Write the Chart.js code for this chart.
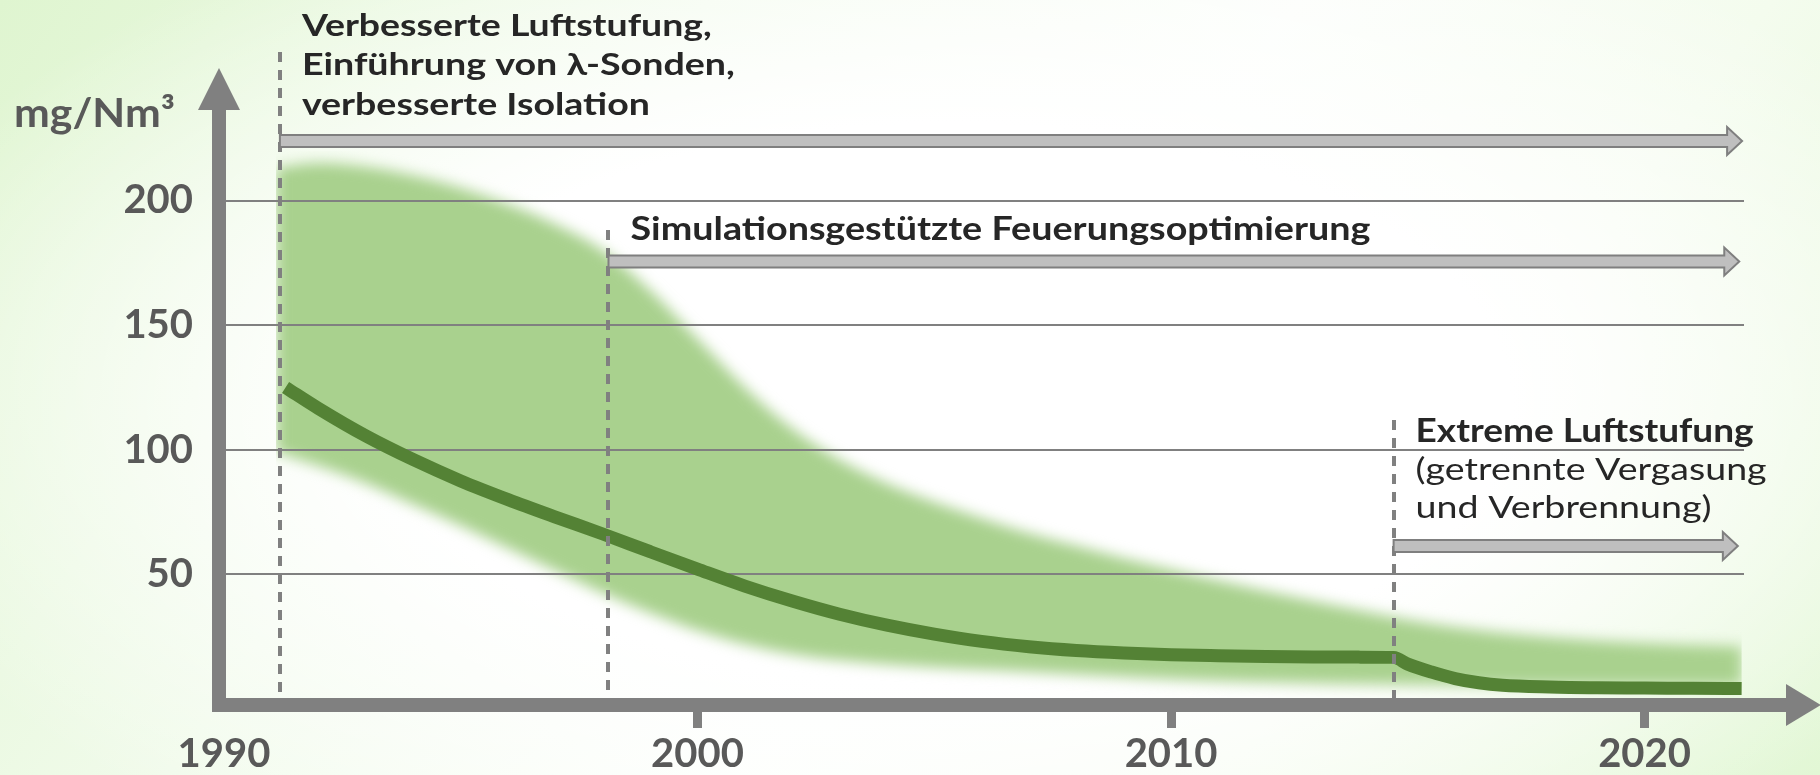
<!DOCTYPE html>
<html>
<head>
<meta charset="utf-8">
<script src="https://cdn.jsdelivr.net/npm/chart.js@4/dist/chart.umd.min.js"></script>
<style>
  html, body { margin: 0; padding: 0; width: 1820px; height: 775px; overflow: hidden; }
  body {
    background:
      radial-gradient(ellipse 62% 72% at 52% 52%, #ffffff 50%, rgba(255,255,255,0) 100%),
      linear-gradient(125deg, #dff5d0 0%, #f1fbeb 30%, #fbfefa 55%, #f4fcee 75%, #e2f7d5 100%);
  }
  #wrap { position: absolute; left: 0; top: 0; width: 1820px; height: 775px; }
</style>
</head>
<body>
<div id="wrap"><canvas id="c" width="1820" height="775"></canvas></div>
<script>
// ---------------- data ----------------
const yUnitLabel = "mg/Nm³";
const xTickYears = [1990, 2000, 2010, 2020];
const yTickValues = [50, 100, 150, 200];

// spread of emissions (light green band)
const bandYears = [1991.1, 1992, 1993, 1994, 1995, 1996, 1997, 1998, 1999, 2000, 2001, 2002, 2003, 2004, 2005, 2006, 2007, 2008, 2009, 2010, 2011, 2012, 2013, 2014, 2015, 2016, 2017, 2018, 2019, 2020, 2021, 2022.05];
const bandUpper = [213, 215, 213.5, 210, 205, 198.5, 190.5, 180, 164, 144.5, 125, 108.5, 96, 86.5, 79, 72.5, 66.5, 61.5, 56.5, 52, 47.5, 43.3, 39.3, 35.5, 31.8, 28.8, 26.5, 24.8, 23.4, 22.4, 21.6, 21];
const bandLower = [99, 93.5, 86.5, 78, 69.5, 60.5, 51.5, 42.5, 34.5, 27.5, 22, 18, 15.5, 13.8, 12.6, 11.7, 10.8, 9.8, 8.8, 7.9, 7.2, 6.7, 6.3, 6, 5.8, 5.6, 5.5, 5.5, 5.5, 5.5, 5.5, 5.5];

// typical emission (dark green line)
const meanYears = [1991.3, 1992, 1993, 1994, 1995, 1996, 1997, 1998, 1999, 2000, 2001, 2002, 2003, 2004, 2005, 2006, 2007, 2008, 2009, 2010, 2011, 2012, 2013, 2014, 2014.7, 2015, 2015.5, 2016, 2016.5, 2017, 2018, 2019, 2020, 2021, 2022.05];
const meanValues = [125, 116.5, 105.5, 96, 87.5, 80, 73, 66.2, 59.1, 52.1, 45.3, 39.3, 34, 29.6, 26, 23.1, 21, 19.5, 18.5, 17.8, 17.4, 17.1, 16.9, 16.8, 16.7, 14, 10.8, 8.2, 6.5, 5.5, 4.8, 4.5, 4.4, 4.3, 4.2];

// technology stages
const stageYears = [1991.18, 1998.12, 2014.7];
const stageEndYears = [2022.06, 2022.0, 2021.97];
const stageTexts = [
  ["Verbesserte Luftstufung,", "Einführung von λ-Sonden,", "verbesserte Isolation"],
  ["Simulationsgestützte Feuerungsoptimierung"],
  ["Extreme Luftstufung", "(getrennte Vergasung", "und Verbrennung)"]
];

// ---------------- styling / layout (not data) ----------------
const GRAY = '#808080';
const TICK_TEXT = '#595959';
const NOTE_TEXT = '#262626';
const BAND_BLUR = 'blur(7px)';
const FONT_FAMILY = 'Lato, "Open Sans", "DejaVu Sans", sans-serif';
const stageStyle = [
  { dashTopVal: 259.6, arrowVal: 223.9, baselines: [35.5, 75, 114.5], widths: [410, 433, 348], fonts: ['bold 30px', 'bold 30px', 'bold 30px'] },
  { dashTopVal: 188.2, arrowVal: 175.5, baselines: [240], widths: [740], fonts: ['bold 33px'] },
  { dashTopVal: 111.9, arrowVal: 61.4, baselines: [441.7, 480, 518.3], widths: [338, 351, 296], fonts: ['bold 32px', '30px', '30px'] }
];
const TEXT_OFFSET_X = 22;

function fitText(ctx, text, x, y, font, width, color) {
  ctx.save();
  ctx.font = font + ' ' + FONT_FAMILY;
  ctx.fillStyle = color;
  ctx.textAlign = 'left';
  ctx.textBaseline = 'alphabetic';
  const w = ctx.measureText(text).width;
  ctx.translate(x, y);
  ctx.scale(width / w, 1);
  ctx.fillText(text, 0, 0);
  ctx.restore();
}

const decor = {
  id: 'decor',
  beforeRender(chart) { chart.ctx.filter = BAND_BLUR; },
  beforeDraw(chart) { chart.ctx.filter = 'none'; },   // runs after the filler has painted the blurred band
  afterDatasetsDraw(chart) {
    const ctx = chart.ctx;
    const ca = chart.chartArea;
    const xs = chart.scales.x, ys = chart.scales.y;
    ctx.save();
    // dashed stage markers
    ctx.strokeStyle = GRAY;
    ctx.lineWidth = 4;
    ctx.setLineDash([10, 8]);
    stageYears.forEach((yr, i) => {
      const x = Math.round(xs.getPixelForValue(yr));
      ctx.beginPath();
      ctx.moveTo(x, ys.getPixelForValue(stageStyle[i].dashTopVal));
      ctx.lineTo(x, ca.bottom - 1);
      ctx.stroke();
    });
    ctx.setLineDash([]);
    // stage arrows
    stageYears.forEach((yr, i) => {
      const x0 = xs.getPixelForValue(yr);
      const tip = xs.getPixelForValue(stageEndYears[i]);
      const y = ys.getPixelForValue(stageStyle[i].arrowVal);
      const xb = tip - 15;
      ctx.beginPath();
      ctx.moveTo(x0, y - 6);
      ctx.lineTo(xb, y - 6);
      ctx.lineTo(xb, y - 14);
      ctx.lineTo(tip, y);
      ctx.lineTo(xb, y + 14);
      ctx.lineTo(xb, y + 6);
      ctx.lineTo(x0, y + 6);
      ctx.closePath();
      ctx.fillStyle = '#bfbfbf';
      ctx.fill();
      ctx.lineWidth = 2;
      ctx.strokeStyle = '#7f7f7f';
      ctx.stroke();
    });
    // axes with arrow heads
    ctx.fillStyle = GRAY;
    const axX = ca.left - 12;
    ctx.fillRect(axX, 110, 14, ca.bottom + 13 - 110);
    ctx.beginPath();
    ctx.moveTo(axX + 7, 68); ctx.lineTo(axX + 7 - 21, 110); ctx.lineTo(axX + 7 + 21, 110); ctx.closePath();
    ctx.fill();
    ctx.fillRect(axX, ca.bottom - 1, 1787 - axX, 14);
    ctx.beginPath();
    ctx.moveTo(1786, ca.bottom + 6 - 21); ctx.lineTo(1821, ca.bottom + 6); ctx.lineTo(1786, ca.bottom + 6 + 21); ctx.closePath();
    ctx.fill();
    ctx.restore();
  },
  afterDraw(chart) {
    const ctx = chart.ctx;
    const xs = chart.scales.x;
    fitText(ctx, yUnitLabel, 14, 127, 'bold 40px', 161, TICK_TEXT);
    stageTexts.forEach((lines, i) => {
      const st = stageStyle[i];
      const x = xs.getPixelForValue(stageYears[i]) + TEXT_OFFSET_X;
      lines.forEach((t, j) => fitText(ctx, t, x, st.baselines[j], st.fonts[j], st.widths[j], NOTE_TEXT));
    });
    ctx.filter = BAND_BLUR;   // prepare for the next frame's band fill
  }
};

function toPoints(xsArr, ysArr) { return xsArr.map((x, i) => ({ x: x, y: ysArr[i] })); }

function build() {
  const ctx = document.getElementById('c').getContext('2d');
  new Chart(ctx, {
    type: 'line',
    data: {
      datasets: [
        { label: 'Bandbreite oben', data: toPoints(bandYears, bandUpper), fill: '+1', backgroundColor: '#a9d18e',
          borderColor: 'rgba(0,0,0,0)', borderWidth: 1, pointRadius: 0, cubicInterpolationMode: 'monotone' },
        { label: 'Bandbreite unten', data: toPoints(bandYears, bandLower), fill: false,
          borderColor: 'rgba(0,0,0,0)', borderWidth: 1, pointRadius: 0, cubicInterpolationMode: 'monotone' },
        { label: 'Typische Emission', data: toPoints(meanYears, meanValues), fill: false,
          borderColor: '#548235', borderWidth: 13, borderCapStyle: 'butt', pointRadius: 0, cubicInterpolationMode: 'monotone' }
      ]
    },
    options: {
      responsive: false,
      animation: false,
      devicePixelRatio: 1,
      layout: { padding: { top: 150.65, right: 76, bottom: 0, left: 0 } },
      plugins: {
        legend: { display: false },
        tooltip: { enabled: false },
        filler: { drawTime: 'beforeDraw', propagate: false }
      },
      scales: {
        x: {
          type: 'linear', min: 1990, max: 2022.1,
          afterFit: s => { s.height = 76; },
          afterBuildTicks: s => { s.ticks = xTickYears.map(v => ({ value: v })); },
          border: { display: false },
          grid: {
            drawOnChartArea: false, drawTicks: true, tickLength: 29, tickWidth: 9,
            tickColor: c => (c.tick && c.tick.value === xTickYears[0]) ? 'rgba(0,0,0,0)' : GRAY
          },
          ticks: { autoSkip: false, maxRotation: 0, padding: 2, color: TICK_TEXT,
                   font: { family: FONT_FAMILY, weight: 'bold', size: 40 },
                   callback: v => String(v) }
        },
        y: {
          type: 'linear', min: 0, max: 220,
          afterFit: s => { s.width = 224; },
          afterBuildTicks: s => { s.ticks = yTickValues.map(v => ({ value: v })); },
          border: { display: false },
          grid: { color: GRAY, lineWidth: 2, drawTicks: false },
          ticks: { padding: 31, color: TICK_TEXT,
                   font: { family: FONT_FAMILY, weight: 'bold', size: 40 },
                   callback: v => String(v) }
        }
      }
    },
    plugins: [decor]
  });
}

const fontLoads = ['bold 40px Lato', '30px Lato', 'bold 30px Lato'].map(f => document.fonts.load(f).catch(() => null));
Promise.race([Promise.all(fontLoads), new Promise(r => setTimeout(r, 1500))]).then(build);
</script>
</body>
</html>
